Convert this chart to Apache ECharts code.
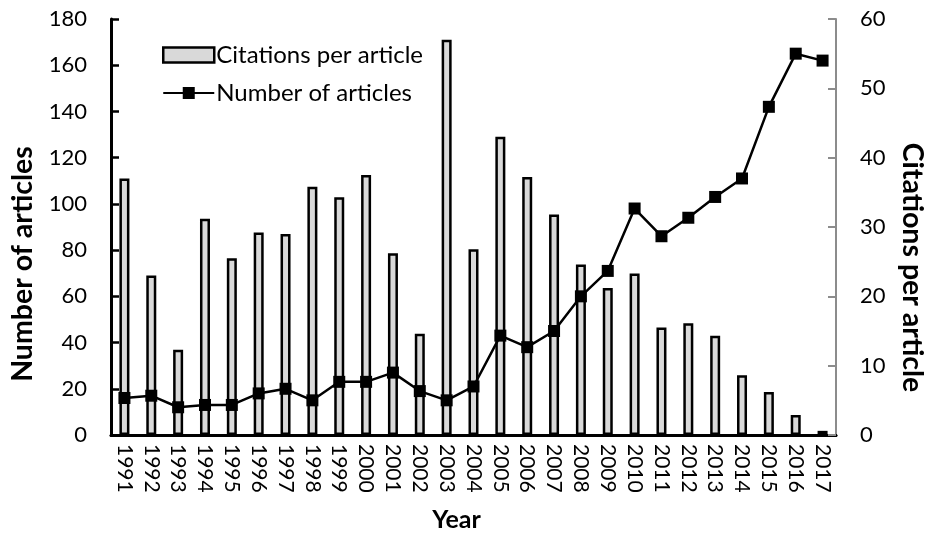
<!DOCTYPE html>
<html>
<head>
<meta charset="utf-8">
<script src="https://cdn.jsdelivr.net/npm/echarts@6/dist/echarts.min.js"></script>
<style>html,body{margin:0;padding:0;background:#fff}#c{width:935px;height:537px}</style>
</head>
<body>
<div id="c"></div>
<script>
var years = ['1991','1992','1993','1994','1995','1996','1997','1998','1999','2000','2001','2002','2003','2004','2005','2006','2007','2008','2009','2010','2011','2012','2013','2014','2015','2016','2017'];
var citationsPerArticle = [37.0,23.0,12.3,31.2,25.5,29.2,29.0,35.8,34.3,37.5,26.2,14.6,57.0,26.8,43.0,37.2,31.8,24.6,21.2,23.3,15.5,16.1,14.3,8.6,6.2,2.9,0.6];
var numberOfArticles = [16,17,12,13,13,18,20,15,23,23,27,19,15,21,43,38,45,60,71,98,86,94,103,111,142,165,162];
var leftTicks = {min:0,max:180,interval:20};
var rightTicks = {min:0,max:60,interval:10};

var FONT = 'Lato';
var chart = echarts.init(document.getElementById('c'), null, {renderer:'canvas'});
chart.setOption({
  animation:false,
  textStyle:{fontFamily:FONT,color:'#000'},
  grid:{left:108,right:88,top:19,bottom:98,containLabel:false},
  legend:{
    orient:'vertical', left:157, top:38, itemWidth:51, itemHeight:15, itemGap:14,
    textStyle:{fontFamily:FONT,fontSize:24,color:'#000',padding:[0,0,0,-3]},
    data:[
      {name:'Citations per article', icon:'rect', itemStyle:{borderWidth:2.5}},
      {name:'Number of articles'}
    ]
  },
  xAxis:[{
    type:'category', data:years, position:'bottom',
    axisLine:{lineStyle:{color:'#000',width:3}},
    axisTick:{show:false},
    axisLabel:{rotate:-90,fontSize:21,color:'#000',fontFamily:FONT,margin:9,interval:0},
    name:'Year', nameLocation:'middle', nameGap:72,
    nameTextStyle:{fontSize:25,fontWeight:'bold',color:'#000',fontFamily:FONT,padding:[0,34,0,0]}
  },{
    type:'category', data:years, position:'top',
    axisLine:{lineStyle:{color:'#000',width:2.5}},
    axisTick:{show:false}, axisLabel:{show:false}
  }],
  yAxis:[{
    type:'value', position:'left', min:leftTicks.min, max:leftTicks.max, interval:leftTicks.interval,
    axisLine:{show:true,lineStyle:{color:'#000',width:3}},
    axisTick:{show:true,inside:true,length:8,lineStyle:{color:'#000',width:2.5}},
    splitLine:{show:false},
    axisLabel:{fontSize:22,color:'#000',fontFamily:FONT,margin:24},
    name:'Number of articles', nameLocation:'middle', nameGap:74, nameRotate:90,
    nameTextStyle:{fontSize:28.5,fontWeight:'bold',color:'#000',fontFamily:FONT,padding:[0,74,0,0]}
  },{
    type:'value', position:'right', min:rightTicks.min, max:rightTicks.max, interval:rightTicks.interval,
    axisLine:{show:true,lineStyle:{color:'#8c8c8c',width:2}},
    axisTick:{show:true,inside:true,length:8,lineStyle:{color:'#8c8c8c',width:2}},
    splitLine:{show:false},
    axisLabel:{fontSize:22,color:'#000',fontFamily:FONT,margin:24},
    name:'Citations per article', nameLocation:'middle', nameGap:62, nameRotate:-90,
    nameTextStyle:{fontSize:28.5,fontWeight:'bold',color:'#000',fontFamily:FONT,padding:[0,0,0,81]}
  }],
  series:[{
    name:'Citations per article', type:'bar', yAxisIndex:1, xAxisIndex:0,
    data:citationsPerArticle, barWidth:10,
    itemStyle:{color:'#d9d9d9',borderColor:'#000',borderWidth:2.5},
    z:2
  },{
    name:'Number of articles', type:'line', yAxisIndex:0, xAxisIndex:0,
    data:numberOfArticles, symbol:'rect', symbolSize:12,
    lineStyle:{color:'#000',width:2.5}, itemStyle:{color:'#000'},
    z:3
  }]
});
</script>
</body>
</html>
